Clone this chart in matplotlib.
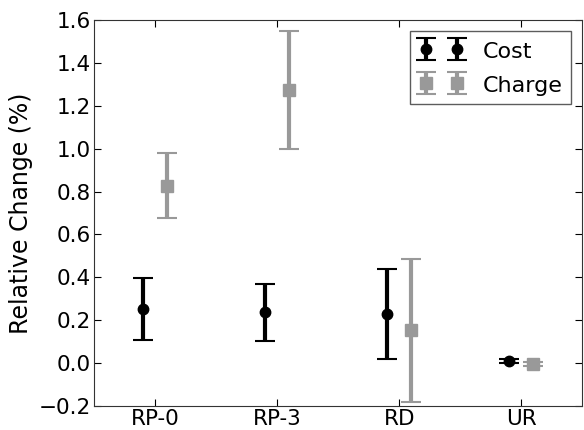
import matplotlib
matplotlib.use("Agg")
import matplotlib.pyplot as plt
import numpy as np

categories = ["RP-0", "RP-3", "RD", "UR"]
cost_vals = [0.252, 0.238, 0.228, 0.010]
cost_err = [0.143, 0.133, 0.210, 0.008]
charge_vals = [0.828, 1.275, 0.153, -0.004]
charge_err = [0.150, 0.275, 0.333, 0.010]

plt.rcParams['font.family'] = ['DejaVu Sans']
plt.rcParams['font.size'] = 15

fig = plt.figure(figsize=(5.84, 4.30), dpi=100)
ax = fig.add_axes([0.161, 0.056, 0.836, 0.897])

x = np.arange(len(categories))
ax.errorbar(x - 0.1, cost_vals, yerr=cost_err, fmt='o', color='black',
            ecolor='black', elinewidth=3, capsize=7.5, capthick=1.5,
            markersize=7.5, label='Cost')
ax.errorbar(x + 0.1, charge_vals, yerr=charge_err, fmt='s', color='#999999',
            ecolor='#999999', elinewidth=3, capsize=7.5, capthick=1.5,
            markersize=8, markeredgecolor='#999999', label='Charge')

ax.set_xlim(-0.5, 3.5)
ax.set_ylim(-0.2, 1.6)
ax.set_xticks(x)
ax.set_xticklabels(categories)
yt = np.arange(-0.2, 1.61, 0.2)
ax.set_yticks(yt)
ax.set_yticklabels([f"{v:.1f}".replace('-', '\u2212') for v in yt])
ax.tick_params(direction='in', top=True, right=True, length=5, labelsize=15.5, pad=2)
ax.set_ylabel('Relative Change (%)', fontsize=17, labelpad=4)
for s in ax.spines.values():
    s.set_color('#333333')
leg = ax.legend(loc='upper right', numpoints=2, fancybox=False, fontsize=16,
                handlelength=2.0, handleheight=1.0, borderpad=0.4, labelspacing=0.55,
                handletextpad=0.85, borderaxespad=0.5)
leg.get_frame().set_edgecolor('#333333')
leg.get_frame().set_linewidth(1.0)

fig.savefig('out.png', dpi=100)
